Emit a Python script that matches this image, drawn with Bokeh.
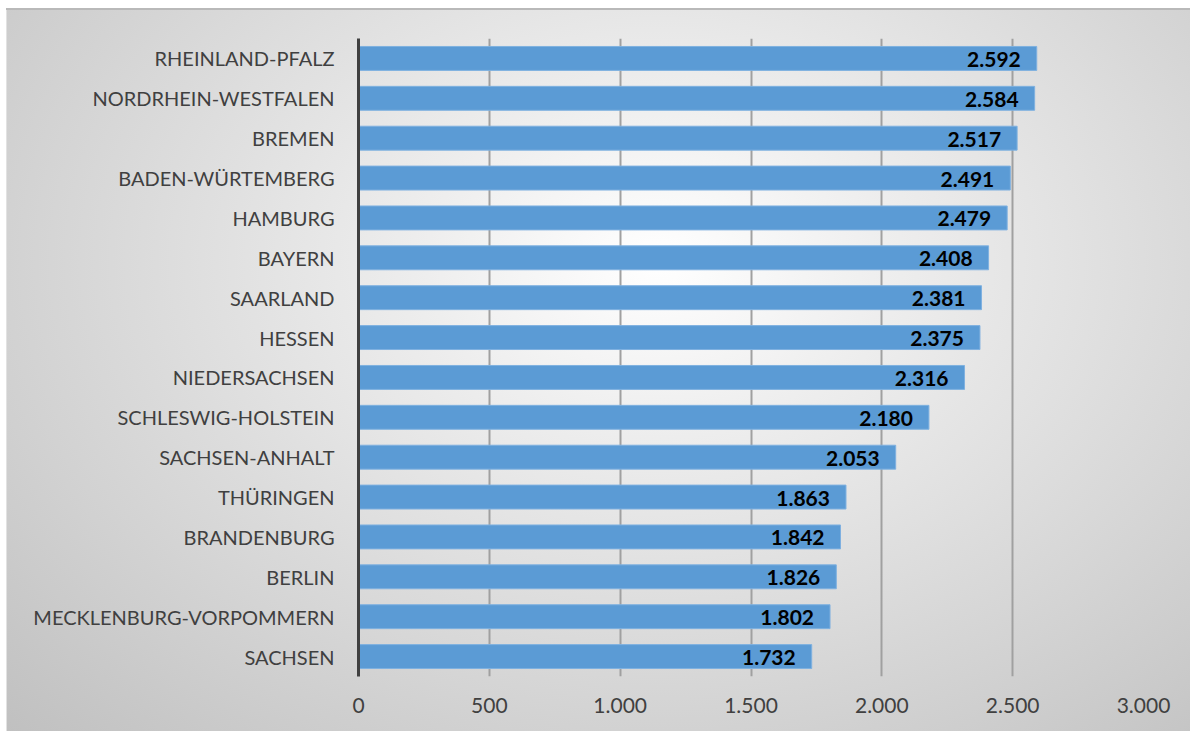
from bokeh.plotting import figure
from bokeh.models import FactorRange, ColumnDataSource, FixedTicker, LabelSet
from bokeh.core.properties import value
from bokeh.embed import file_html
from bokeh.resources import INLINE

states = ["RHEINLAND-PFALZ", "NORDRHEIN-WESTFALEN", "BREMEN", "BADEN-WÜRTEMBERG", "HAMBURG",
          "BAYERN", "SAARLAND", "HESSEN", "NIEDERSACHSEN", "SCHLESWIG-HOLSTEIN",
          "SACHSEN-ANHALT", "THÜRINGEN", "BRANDENBURG", "BERLIN",
          "MECKLENBURG-VORPOMMERN", "SACHSEN"]
values = [2592, 2584, 2517, 2491, 2479, 2408, 2381, 2375, 2316, 2180,
          2053, 1863, 1842, 1826, 1802, 1732]
labels = ["2.592", "2.584", "2.517", "2.491", "2.479", "2.408", "2.381", "2.375", "2.316", "2.180",
          "2.053", "1.863", "1.842", "1.826", "1.802", "1.732"]
x_ticks = [0, 500, 1000, 1500, 2000, 2500, 3000]
x_tick_labels = ["0", "500", "1.000", "1.500", "2.000", "2.500", "3.000"]

FONT = "Lato"

src = ColumnDataSource(dict(state=states, value=values, label=labels))

p = figure(width=1184, height=723, output_backend="svg", toolbar_location=None,
           y_range=FactorRange(factors=list(reversed(states)), range_padding=0),
           x_range=(0, 3000),
           min_border_left=352, min_border_right=47, min_border_top=30, min_border_bottom=55,
           border_fill_alpha=0, background_fill_alpha=0, outline_line_color=None)

p.styles = {
    "margin-left": "6px",
    "margin-top": "8px",
    "background-image": "radial-gradient(ellipse farthest-corner at 55% 35%, #ffffff 0%, #eeeeee 25%, #c0c0c0 100%)",
    "box-shadow": "inset 0 2px 0 #b9b9b9, inset 1px 0 0 #e2e2e2",
}

p.hbar(y="state", right="value", left=0, height=0.6, source=src,
       fill_color="#5B9BD5", line_color="#7fb1e0", line_width=1)

p.add_layout(LabelSet(x="value", y="state", text="label", source=src,
                      x_offset=-16, y_offset=-1, text_align="right", text_baseline="middle",
                      text_font=value(FONT), text_font_style="bold", text_font_size="21px",
                      text_color="#000000"))

# x axis
p.xaxis.ticker = FixedTicker(ticks=x_ticks)
p.xaxis.major_label_overrides = {t: s for t, s in zip(x_ticks, x_tick_labels)}
p.xaxis.axis_line_color = None
p.xaxis.major_tick_line_color = None
p.xaxis.minor_tick_line_color = None
p.xaxis.major_label_standoff = 15
p.xaxis.major_label_text_font = FONT
p.xaxis.major_label_text_font_size = "21px"
p.xaxis.major_label_text_color = "#404040"

# y axis
p.yaxis.axis_line_color = "#404040"
p.yaxis.axis_line_width = 3
p.yaxis.major_tick_line_color = None
p.yaxis.minor_tick_line_color = None
p.yaxis.major_label_standoff = 18
p.yaxis.major_label_text_font = FONT
p.yaxis.major_label_text_font_size = "20px"
p.yaxis.major_label_text_color = "#404040"

p.ygrid.grid_line_color = None
p.xgrid.ticker = FixedTicker(ticks=[500, 1000, 1500, 2000, 2500])
p.xgrid.grid_line_color = "#a0a0a0"
p.xgrid.grid_line_width = 2
p.xgrid.level = "underlay"

open("out.html", "w").write(file_html(p, INLINE))
